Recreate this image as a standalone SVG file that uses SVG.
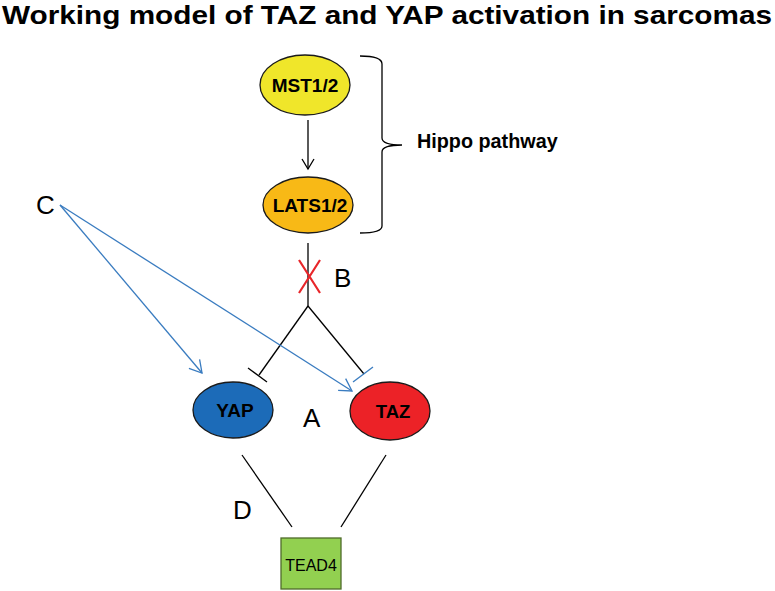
<svg xmlns="http://www.w3.org/2000/svg" width="775" height="591" viewBox="0 0 775 591">
<defs>
<style>
.t{font-family:"Liberation Sans",Arial,sans-serif;fill:#000}
.b{font-weight:bold}
.k{stroke:#000;stroke-width:1.3;fill:none}
.bl{stroke:#3a7cc0;stroke-width:1.3;fill:none}
.node{stroke:#1a1a1a;stroke-width:1.3}
</style>
<marker id="ak" markerWidth="14" markerHeight="14" refX="11" refY="7" orient="auto" markerUnits="userSpaceOnUse"><path d="M1,1 L11,7 L1,13" fill="none" stroke="#000" stroke-width="1.3"/></marker>
<marker id="ab" markerWidth="16" markerHeight="16" refX="13" refY="8" orient="auto" markerUnits="userSpaceOnUse"><path d="M1,1 L13,8 L1,15" fill="none" stroke="#3a7cc0" stroke-width="1.3"/></marker>
</defs>
<rect width="775" height="591" fill="#fff"/>
<text class="t b" x="2" y="24" font-size="25" textLength="770" lengthAdjust="spacingAndGlyphs">Working model of TAZ and YAP activation in sarcomas</text>

<g id="connectors">
<line class="k" x1="308" y1="120" x2="308" y2="169" marker-end="url(#ak)"/>
<path class="k" d="M360,56 Q382,56 382,64 L382,138 Q382,145 402,145 Q382,145 382,152 L382,226 Q382,233 360,233"/>
<line class="k" x1="308" y1="243" x2="308" y2="306"/>
<path d="M299,260 L320,293 M320,260 L299,293" stroke="#e8262a" stroke-width="2.2" fill="none"/>
<line class="k" x1="308" y1="306" x2="259" y2="375"/>
<line class="k" x1="248" y1="368" x2="267" y2="382"/>
<line class="k" x1="308" y1="306" x2="364" y2="374"/>
<line class="bl" x1="353" y1="382" x2="373" y2="367"/>
<line class="bl" x1="60" y1="205" x2="202" y2="373" marker-end="url(#ab)"/>
<line class="bl" x1="60" y1="205" x2="352" y2="391" marker-end="url(#ab)"/>
<line class="k" x1="242" y1="455" x2="292" y2="527"/>
<line class="k" x1="386" y1="455" x2="341" y2="527"/>
</g>

<g id="mst">
<ellipse class="node" cx="305" cy="85" rx="45" ry="30" fill="#f0e62a"/>
<text class="t b" x="305" y="92" font-size="19" text-anchor="middle">MST1/2</text>
</g>
<g id="lats">
<ellipse class="node" cx="308" cy="205" rx="45" ry="28" fill="#f8b916"/>
<text class="t b" x="310" y="212" font-size="19" text-anchor="middle">LATS1/2</text>
</g>
<g id="hippo">
<text class="t b" x="417" y="148" font-size="19.8">Hippo pathway</text>
</g>
<g id="yap">
<ellipse class="node" cx="233" cy="410" rx="40" ry="28" fill="#1c6bb8"/>
<text class="t b" x="235" y="417" font-size="19" text-anchor="middle">YAP</text>
</g>
<g id="taz">
<ellipse class="node" cx="390" cy="411" rx="40" ry="29" fill="#ec2227"/>
<text class="t b" x="393" y="418" font-size="18.5" text-anchor="middle">TAZ</text>
</g>
<g id="tead4">
<rect x="281" y="538" width="60" height="51" fill="#92d050" stroke="#4f6b2a" stroke-width="1.3"/>
<text class="t" x="311" y="571" font-size="16" text-anchor="middle">TEAD4</text>
</g>
<g id="labels">
<text class="t" x="36" y="214" font-size="26">C</text>
<text class="t" x="334" y="287" font-size="26">B</text>
<text class="t" x="303" y="427" font-size="26">A</text>
<text class="t" x="233" y="519" font-size="26">D</text>
</g>
</svg>
